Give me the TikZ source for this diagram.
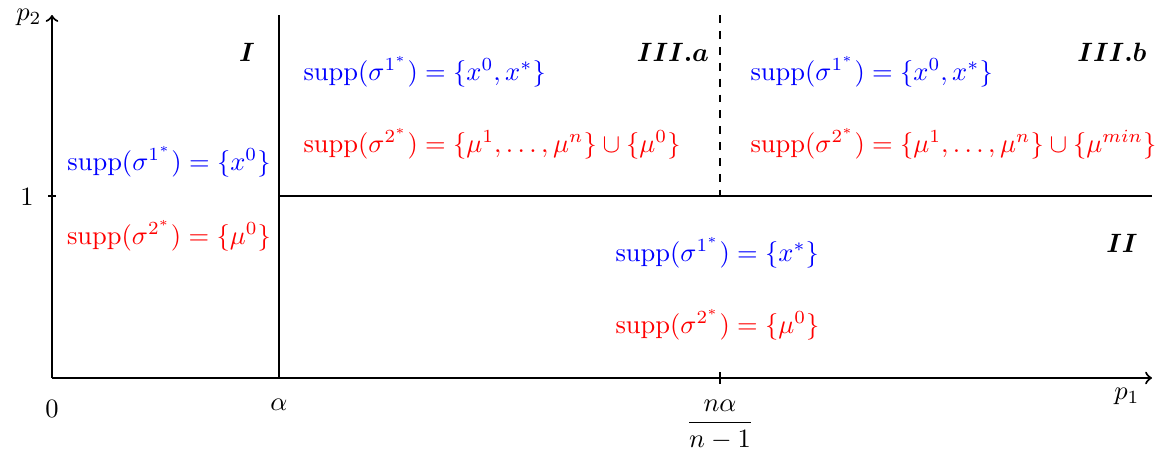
\documentclass[tikz,border=0pt]{standalone}
\usepackage{amsmath,amssymb,bm}
\begin{document}
\begin{tikzpicture}[x=0.3774pt,y=-0.3774pt,
  axis/.style={thick,->},
  bnd/.style={thick},
  lbl/.style={inner sep=0pt},
  bl/.style={blue,inner sep=0pt},
  rd/.style={red,inner sep=0pt}]
\useasboundingbox (0,0) rectangle (1162,459);
\coordinate (O) at (52,378);
\coordinate (Xe) at (1152,378);
\coordinate (Ye) at (52,15);
\draw[axis] (O) -- (Xe);
\draw[axis] (O) -- (Ye);
\node[lbl,anchor=east] (p2) at (42,17) {$p_2$};
\node[lbl] (p1) at (1127,396) {$p_1$};
\node[lbl] (zero) at (52,409) {$0$};
\node[lbl] (one) at (27,197) {$1$};
\coordinate (t1a) at (48,196);
\coordinate (t1b) at (56,196);
\draw[thin] (t1a) -- (t1b);
\coordinate (ta) at (720,372);
\coordinate (tb) at (720,384);
\draw[thin] (ta) -- (tb);
\node[lbl] (alpha) at (279,405) {$\alpha$};
\node[lbl] (frac) at (720,425) {$\dfrac{n\alpha}{n-1}$};
\coordinate (v1) at (279,15);
\coordinate (v2) at (279,378);
\draw[bnd] (v1) -- (v2);
\coordinate (h1) at (279,196);
\coordinate (h2) at (1152,196);
\draw[bnd] (h1) -- (h2);
\coordinate (d1) at (720,15);
\coordinate (d2) at (720,196);
\draw[thick,dashed] (d1) -- (d2);
\node[lbl] (rI) at (247,52) {$\boldsymbol{I}$};
\node[lbl] (rIIIa) at (673,52) {$\boldsymbol{III.a}$};
\node[lbl] (rIIIb) at (1112,52) {$\boldsymbol{III.b}$};
\node[lbl] (rII) at (1122,243) {$\boldsymbol{II}$};
\node[bl] (b1) at (169,162) {$\mathrm{supp}(\sigma^{1^*})=\{x^0\}$};
\node[rd] (r1) at (169,236) {$\mathrm{supp}(\sigma^{2^*})=\{\mu^0\}$};
\node[bl,anchor=west] (b3a) at (303,72) {$\mathrm{supp}(\sigma^{1^*})=\{x^0,x^*\}$};
\node[rd,anchor=west] (r3a) at (303,144) {$\mathrm{supp}(\sigma^{2^*})=\{\mu^1,\ldots,\mu^n\}\cup\{\mu^0\}$};
\node[bl,anchor=west] (b3b) at (750,72) {$\mathrm{supp}(\sigma^{1^*})=\{x^0,x^*\}$};
\node[rd,anchor=west] (r3b) at (750,144) {$\mathrm{supp}(\sigma^{2^*})=\{\mu^1,\ldots,\mu^n\}\cup\{\mu^{min}\}$};
\node[bl,anchor=west] (b2) at (615,253) {$\mathrm{supp}(\sigma^{1^*})=\{x^*\}$};
\node[rd,anchor=west] (r2) at (615,325) {$\mathrm{supp}(\sigma^{2^*})=\{\mu^0\}$};
\end{tikzpicture}
\end{document}
